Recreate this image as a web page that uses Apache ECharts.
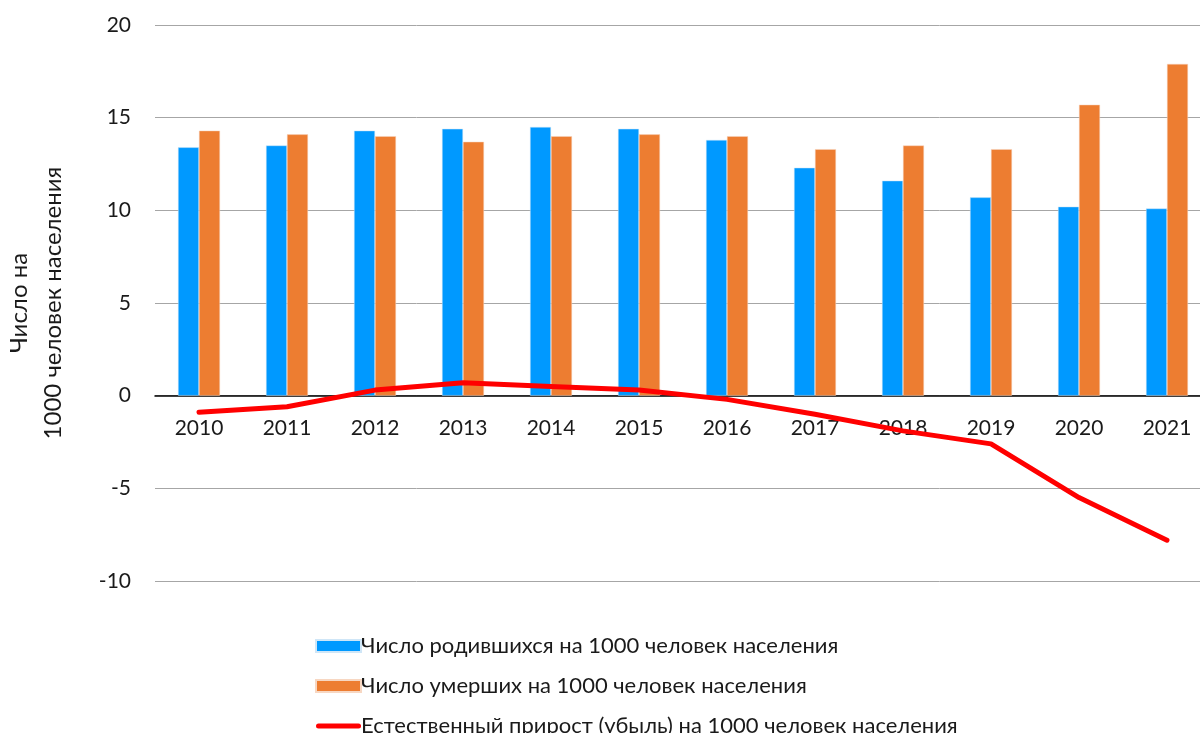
<!DOCTYPE html>
<html>
<head>
<meta charset="utf-8">
<script src="https://cdn.jsdelivr.net/npm/echarts@6/dist/echarts.min.js"></script>
<style>
  html, body { margin: 0; padding: 0; background: #fff; }
  #chart { width: 1200px; height: 733px; }
</style>
</head>
<body>
<div id="chart"></div>
<script>
// годы
const years = ['2010', '2011', '2012', '2013', '2014', '2015', '2016', '2017', '2018', '2019', '2020', '2021']
// число родившихся на 1000 человек
const births = [13.4, 13.5, 14.3, 14.4, 14.5, 14.4, 13.8, 12.3, 11.6, 10.7, 10.2, 10.1]
// число умерших на 1000 человек
const deaths = [14.3, 14.1, 14.0, 13.7, 14.0, 14.1, 14.0, 13.3, 13.5, 13.3, 15.7, 17.9]
// естественный прирост (убыль)
const growth = [-0.9, -0.6, 0.3, 0.7, 0.5, 0.3, -0.2, -1.0, -1.9, -2.6, -5.5, -7.8]

const names = [
  'Число родившихся на 1000 человек населения',
  'Число умерших на 1000 человек населения',
  'Естественный прирост (убыль) на 1000 человек населения'
]

const font = 'Lato, "Open Sans", sans-serif'

const myChart = echarts.init(document.getElementById('chart'))

const option = {
  animation: false,
  textStyle: { fontFamily: font },
  grid: {
    left: 155,
    right: -11,
    top: 25,
    bottom: 152,
    containLabel: false,
    outerBoundsMode: 'none'
  },
  legend: {
    orient: 'vertical',
    left: 310,
    top: 630,
    height: 200,
    itemWidth: 45,
    itemHeight: 12,
    itemGap: 18,
    textStyle: { fontSize: 22, color: '#1a1a1a', fontFamily: font, padding: [0, 0, 0, -5] },
    data: [
      { name: names[0], icon: 'rect' },
      { name: names[1], icon: 'rect' },
      { name: names[2], icon: 'path://M2.5,0 H42.5 A2.5,2.5 0 0 1 42.5,5 H2.5 A2.5,2.5 0 0 1 2.5,0 Z' }
    ]
  },
  xAxis: {
    type: 'category',
    data: years,
    position: 'bottom',
    // ось проходит через ноль: 10 единиц * 18.53px
    offset: -185,
    axisLine: { onZero: false, lineStyle: { color: '#000', width: 1.5 } },
    axisTick: { show: false },
    axisLabel: { fontSize: 21, color: '#1a1a1a', margin: 22 }
  },
  yAxis: {
    type: 'value',
    min: -10,
    max: 20,
    interval: 5,
    name: 'Число на\n1000 человек населения',
    nameLocation: 'middle',
    nameRotate: 90,
    nameGap: 85,
    nameTextStyle: { fontSize: 24, color: '#1a1a1a', lineHeight: 34 },
    axisLine: { show: false },
    axisTick: { show: false },
    axisLabel: { fontSize: 21, color: '#1a1a1a', margin: 24 },
    splitLine: { lineStyle: { color: '#a6a6a6', width: 1 } }
  },
  series: [
    {
      name: names[0],
      type: 'bar',
      data: births,
      barWidth: 21,
      barGap: '0%',
      itemStyle: { color: '#0099ff', borderColor: '#cfe6f7', borderWidth: 0.5 }
    },
    {
      name: names[1],
      type: 'bar',
      data: deaths,
      barWidth: 21,
      barGap: '0%',
      itemStyle: { color: '#ed7d31', borderColor: '#f7d7c2', borderWidth: 0.5 }
    },
    {
      name: names[2],
      type: 'line',
      data: growth,
      showSymbol: false,
      symbol: 'none',
      lineStyle: { color: '#ff0000', width: 5, cap: 'round', join: 'round' },
      itemStyle: { color: '#ff0000' },
      z: 5
    }
  ]
}

myChart.setOption(option)
</script>
</body>
</html>
